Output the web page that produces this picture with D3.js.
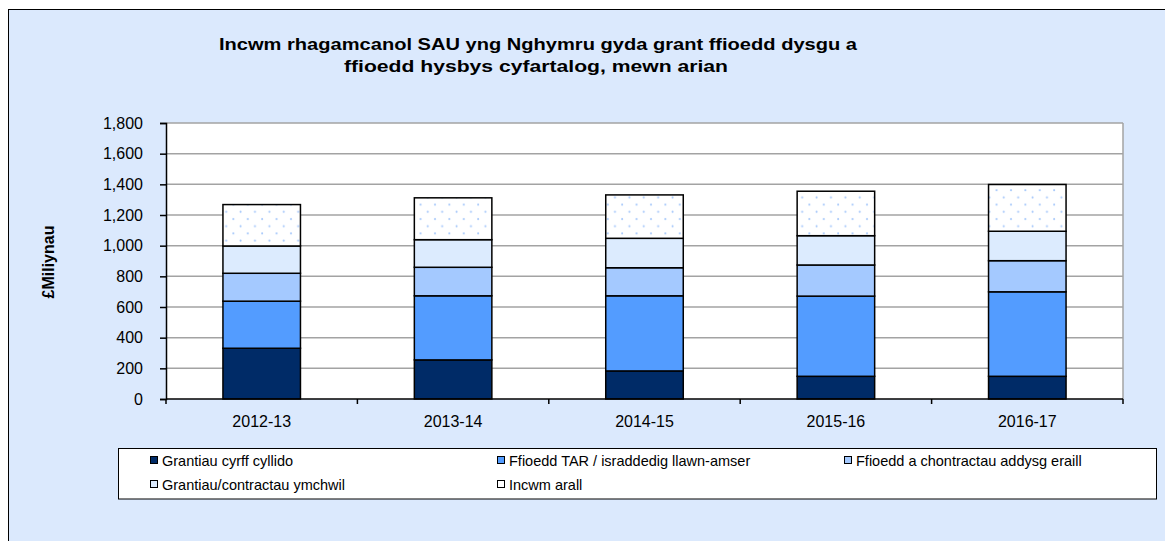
<!DOCTYPE html>
<html>
<head>
<meta charset="utf-8">
<script src="https://cdn.jsdelivr.net/npm/d3@7"></script>
<style>
    body { margin: 0; background: #ffffff; }
    svg text { font-family: "Liberation Sans", Arial, sans-serif; fill: #000; }
</style>
</head>
<body>
<div id="chart"></div>
<script>
// Data (£ millions)
var years = ["2012-13", "2013-14", "2014-15", "2015-16", "2016-17"];
var seriesNames = ["Grantiau cyrff cyllido", "Ffioedd TAR / israddedig llawn-amser",
    "Ffioedd a chontractau addysg eraill", "Grantiau/contractau ymchwil", "Incwm arall"];
var grantiau = [331, 255, 183, 148, 148];
var ffioeddTAR = [307, 418, 490, 523, 551];
var ffioeddEraill = [182, 186, 183, 203, 203];
var ymchwil = [178, 180, 192, 191, 192];
var incwmArall = [270, 273, 283, 290, 305];
var yTicks = [0, 200, 400, 600, 800, 1000, 1200, 1400, 1600, 1800];

var W = 1165, H = 541;
var plot = {left: 166, top: 123, right: 1123, bottom: 399};

var svg = d3.select("#chart")
    .append("svg")
        .attr("width", W)
        .attr("height", H);

// dotted fill for "Incwm arall"
var defs = svg.append("defs");
var pat = defs.append("pattern")
    .attr("id", "dots")
    .attr("patternUnits", "userSpaceOnUse")
    .attr("width", 14.4).attr("height", 14.4);
pat.append("rect").attr("width", 14.4).attr("height", 14.4).attr("fill", "#ffffff");
pat.append("circle").attr("cx", 3).attr("cy", 3).attr("r", 1).attr("fill", "#a6c8fb");
pat.append("circle").attr("cx", 10.2).attr("cy", 10.2).attr("r", 1).attr("fill", "#a6c8fb");

// outer chart box
svg.append("rect")
    .attr("x", 8.5).attr("y", 9.5)
    .attr("width", W + 20).attr("height", H + 20)
    .attr("fill", "#dbe9fd")
    .attr("stroke", "#000").attr("stroke-width", 1);

// Title (stretched to the width it has in the original)
var title = svg.append("text")
    .attr("text-anchor", "middle")
    .style("font-size", "17px")
    .style("font-weight", "bold");
title.append("tspan").attr("x", 538).attr("y", 50)
    .attr("textLength", 638).attr("lengthAdjust", "spacingAndGlyphs")
    .text("Incwm rhagamcanol SAU yng Nghymru  gyda grant ffioedd dysgu a");
title.append("tspan").attr("x", 536).attr("y", 72)
    .attr("textLength", 384).attr("lengthAdjust", "spacingAndGlyphs")
    .text("ffioedd hysbys  cyfartalog, mewn arian");

// plot area
svg.append("rect")
    .attr("x", plot.left).attr("y", plot.top)
    .attr("width", plot.right - plot.left).attr("height", plot.bottom - plot.top)
    .attr("fill", "#ffffff");

// Scales
var x = d3.scaleBand()
    .domain(years)
    .range([plot.left, plot.right])
    .padding(0);

var y = d3.scaleLinear()
    .domain([0, 1800])
    .range([plot.bottom, plot.top]);

// gridlines
svg.append("g")
    .selectAll("line")
    .data(yTicks.filter(d => d > 0))
    .enter().append("line")
    .attr("x1", plot.left).attr("x2", plot.right)
    .attr("y1", d => y(d)).attr("y2", d => y(d))
    .attr("stroke", "#a3a3a3").attr("stroke-width", 1.5);

// right border of plot area
svg.append("line")
    .attr("x1", plot.right).attr("x2", plot.right)
    .attr("y1", plot.top).attr("y2", plot.bottom)
    .attr("stroke", "#a3a3a3").attr("stroke-width", 1.5);

// Stack the data
var table = years.map((yr, i) => ({
    year: yr,
    s0: grantiau[i], s1: ffioeddTAR[i], s2: ffioeddEraill[i], s3: ymchwil[i], s4: incwmArall[i]
}));
var series = d3.stack().keys(["s0", "s1", "s2", "s3", "s4"])(table);

var fills = ["#002b67", "#539cff", "#a4c9ff", "#dcebfe", "url(#dots)"];
var barW = x.bandwidth() * 0.405;

svg.append("g")
    .selectAll("g")
    .data(series)
    .enter().append("g")
    .attr("fill", (d, i) => fills[i])
    .selectAll("rect")
    .data(d => d)
    .enter().append("rect")
    .attr("x", d => x(d.data.year) + (x.bandwidth() - barW) / 2)
    .attr("y", d => y(d[1]))
    .attr("height", d => y(d[0]) - y(d[1]))
    .attr("width", barW)
    .attr("stroke", "#000")
    .attr("stroke-width", 1.5);

// Y axis
var yAxis = svg.append("g")
    .attr("transform", "translate(" + plot.left + ",0)")
    .call(d3.axisLeft(y).tickValues(yTicks).tickSize(6).tickPadding(17)
        .tickFormat(d3.format(",")));
yAxis.select(".domain").attr("stroke", "#000").attr("stroke-width", 1.5);
yAxis.selectAll("line").attr("stroke", "#000").attr("stroke-width", 1.5);
yAxis.selectAll("text")
    .style("font-size", "16px")
    .style("font-family", "'Liberation Sans', Arial, sans-serif");

// X axis: ticks sit between categories
var xAxis = svg.append("g")
    .attr("transform", "translate(0," + plot.bottom + ")");
xAxis.append("line")
    .attr("x1", plot.left).attr("x2", plot.right)
    .attr("stroke", "#000").attr("stroke-width", 1.5);
xAxis.selectAll("line.tk")
    .data(years.concat(["end"]))
    .enter().append("line")
    .attr("class", "tk")
    .attr("x1", (d, i) => plot.left + i * x.step())
    .attr("x2", (d, i) => plot.left + i * x.step())
    .attr("y1", 0).attr("y2", 5)
    .attr("stroke", "#000").attr("stroke-width", 1.5);
xAxis.selectAll("text")
    .data(years)
    .enter().append("text")
    .attr("x", d => x(d) + x.bandwidth() / 2)
    .attr("y", 28)
    .attr("text-anchor", "middle")
    .style("font-size", "16px")
    .text(d => d);

// Y axis label
svg.append("text")
    .attr("transform", "rotate(-90)")
    .attr("x", -262)
    .attr("y", 54)
    .attr("text-anchor", "middle")
    .style("font-size", "16px")
    .style("font-weight", "bold")
    .text("£Miliynau");

// Legend
var legend = svg.append("g");
legend.append("rect")
    .attr("x", 118.5).attr("y", 448.5)
    .attr("width", 1038).attr("height", 50.5)
    .attr("fill", "#ffffff")
    .attr("stroke", "#000").attr("stroke-width", 1);

var legendFills = ["#002b67", "#539cff", "#a4c9ff", "#dcebfe", "#ffffff"];
var items = legend.selectAll("g.item")
    .data(seriesNames)
    .enter().append("g")
    .attr("class", "item")
    .attr("transform", (d, i) => "translate(" + (150 + (i % 3) * 347) + "," + (i < 3 ? 461 : 485) + ")");
items.append("rect")
    .attr("x", 0.5).attr("y", -4.5)
    .attr("width", 7).attr("height", 7)
    .attr("fill", (d, i) => legendFills[i])
    .attr("stroke", "#000").attr("stroke-width", 1);
items.append("text")
    .attr("x", 12).attr("y", 5)
    .style("font-size", "14.5px")
    .text(d => d);
</script>
</body>
</html>
